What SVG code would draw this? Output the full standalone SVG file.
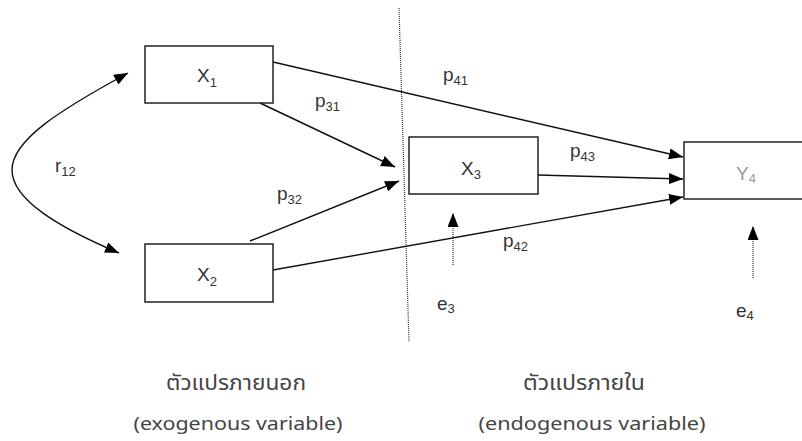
<svg xmlns="http://www.w3.org/2000/svg" width="802" height="441" viewBox="0 0 802 441">
<defs>
<style>
.box{fill:#fff;stroke:#222;stroke-width:1.5}
.ln{fill:none;stroke:#111;stroke-width:1.4}
.dot{fill:none;stroke:#333;stroke-width:1.2;stroke-dasharray:1 1}
.lbl{font-family:"Liberation Sans",Arial,sans-serif;font-size:19px;fill:#333}
.sub{font-size:13px}
.cap{font-family:"Noto Sans Thai","Noto Sans","DejaVu Sans",sans-serif;font-size:18px;fill:#444}
.th{font-size:22px}
</style>
<marker id="ah" viewBox="0 0 14 11" refX="14" refY="5.5" markerWidth="14" markerHeight="11" markerUnits="userSpaceOnUse" orient="auto-start-reverse">
<path d="M0,0 L14,5.5 L0,11 z" fill="#000"/>
</marker>
</defs>
<rect width="802" height="441" fill="#fff"/>
<g id="connectors">
<path class="dot" d="M399,8 L409,342"/>
<path class="ln" d="M128,73 C60,110 12,140 12,170 C12,200 60,228 119,253" marker-start="url(#ah)" marker-end="url(#ah)"/>
<path class="ln" d="M273,62 L683,157" marker-end="url(#ah)"/>
<path class="ln" d="M260,103 L395,167" marker-end="url(#ah)"/>
<path class="ln" d="M250,241 L399,181" marker-end="url(#ah)"/>
<path class="ln" d="M538,175 L683,179" marker-end="url(#ah)"/>
<path class="ln" d="M273,270 L683,197" marker-end="url(#ah)"/>
<path class="dot" d="M453,265 L453,213" marker-end="url(#ah)"/>
<path class="dot" d="M753,278 L753,226" marker-end="url(#ah)"/>
<text class="lbl" x="55" y="172">r<tspan class="sub" dy="4">12</tspan></text>
<text class="lbl" x="315" y="107">p<tspan class="sub" dy="4">31</tspan></text>
<text class="lbl" x="277" y="200">p<tspan class="sub" dy="4">32</tspan></text>
<text class="lbl" x="443" y="81">p<tspan class="sub" dy="4">41</tspan></text>
<text class="lbl" x="570" y="157">p<tspan class="sub" dy="4">43</tspan></text>
<text class="lbl" x="503" y="247">p<tspan class="sub" dy="4">42</tspan></text>
<text class="lbl" x="437" y="310">e<tspan class="sub" dy="3">3</tspan></text>
<text class="lbl" x="736" y="317">e<tspan class="sub" dy="3">4</tspan></text>
</g>
<g id="X1">
<rect class="box" x="145" y="46" width="128" height="57"/>
<text class="lbl" x="197" y="82">X<tspan class="sub" dy="5">1</tspan></text>
</g>
<g id="X2">
<rect class="box" x="145" y="244" width="128" height="58"/>
<text class="lbl" x="197" y="281">X<tspan class="sub" dy="5">2</tspan></text>
</g>
<g id="X3">
<rect class="box" x="409" y="137" width="129" height="57"/>
<text class="lbl" x="461" y="175">X<tspan class="sub" dy="4">3</tspan></text>
</g>
<g id="Y4">
<rect class="box" x="684" y="142" width="130" height="57"/>
<text class="lbl" x="736" y="180" style="fill:#999">Y<tspan class="sub" dy="3">4</tspan></text>
</g>
<g id="captions">
<text class="cap th" x="236" y="390" text-anchor="middle" textLength="140" lengthAdjust="spacingAndGlyphs">ตัวแปรภายนอก</text>
<text class="cap" x="238" y="430" text-anchor="middle" textLength="209" lengthAdjust="spacingAndGlyphs">(exogenous variable)</text>
<text class="cap th" x="584" y="390" text-anchor="middle" textLength="122" lengthAdjust="spacingAndGlyphs">ตัวแปรภายใน</text>
<text class="cap" x="592" y="430" text-anchor="middle" textLength="227" lengthAdjust="spacingAndGlyphs">(endogenous variable)</text>
</g>
</svg>
